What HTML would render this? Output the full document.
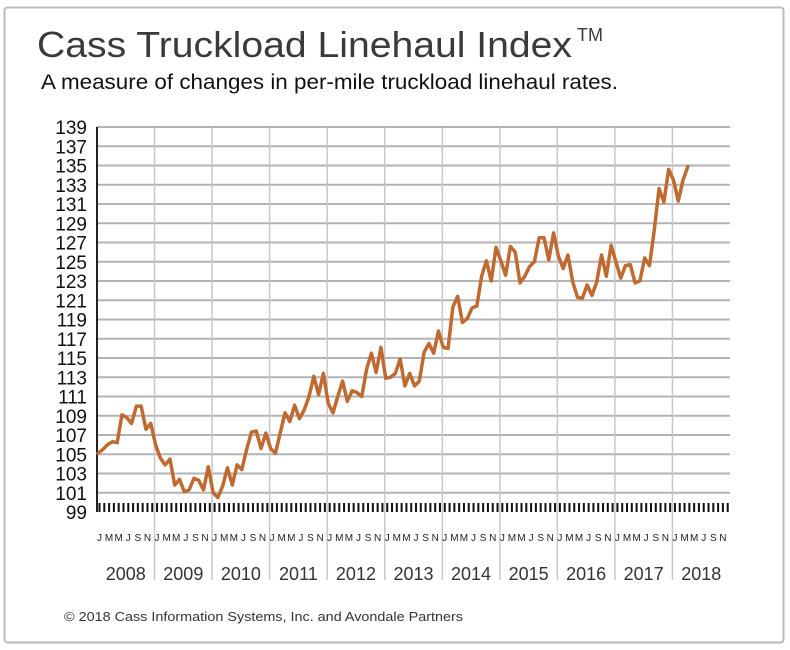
<!DOCTYPE html>
<html><head><meta charset="utf-8"><style>
body{margin:0;background:#fff;font-family:"Liberation Sans",sans-serif;}
svg{display:block}
</style></head><body>
<svg id="chart" width="790" height="650">
<rect x="4.5" y="7.5" width="779" height="635" rx="3" fill="#fff" stroke="#bbb" stroke-width="2"/>
<text x="37" y="57" font-size="36" fill="#3a3a3a" textLength="535" lengthAdjust="spacingAndGlyphs">Cass Truckload Linehaul Index</text>
<text x="577" y="41" font-size="18" fill="#3a3a3a">TM</text>
<text x="41" y="89" font-size="21" fill="#111" textLength="577" lengthAdjust="spacingAndGlyphs">A measure of changes in per-mile truckload linehaul rates.</text>
<g id="grid"></g>
<g id="series"></g>
<text x="64" y="621" font-size="13" fill="#333" textLength="399" lengthAdjust="spacingAndGlyphs">© 2018 Cass Information Systems, Inc. and Avondale Partners</text>
</svg>
<script>
const years=["2008","2009","2010","2011","2012","2013","2014","2015","2016","2017","2018"];
const yTicks=[99,101,103,105,107,109,111,113,115,117,119,121,123,125,127,129,131,133,135,137,139];
const monthLabels=["J","","M","","M","","J","","S","","N",""];
const values=[105.1,105.5,106,106.3,106.2,109.1,108.8,108.2,110,110,107.6,108.2,
106,104.6,103.9,104.5,101.8,102.4,101.1,101.3,102.5,102.3,101.3,103.7,
101,100.5,101.7,103.6,101.8,103.9,103.4,105.5,107.3,107.4,105.6,107.2,
105.6,105.1,107.2,109.3,108.4,110.1,108.7,109.6,111,113.1,111.2,113.4,
110.3,109.3,111,112.6,110.5,111.6,111.4,111,113.8,115.5,113.5,116.1,
112.9,113,113.4,114.9,112.1,113.4,112.1,112.6,115.6,116.5,115.5,117.8,
116.1,116,120.3,121.4,118.7,119.1,120.2,120.4,123.5,125.1,123,126.5,
125.1,123.6,126.6,126,122.8,123.5,124.5,125,127.5,127.5,125.2,128,
125.6,124.3,125.7,122.9,121.3,121.2,122.6,121.5,122.9,125.7,123.5,126.7,
125,123.3,124.6,124.7,122.8,123,125.4,124.6,128.3,132.6,131.2,134.6,
133.5,131.3,133.5,134.9];
const NS="http://www.w3.org/2000/svg";
const X0=97,X1=730,YW=(X1-X0)/11,MW=YW/12;
const xm=i=>X0+1+i*MW;
const yv=v=>512-(v-99)*(512-127)/40;
function mk(tag,attrs,parent){const e=document.createElementNS(NS,tag);for(const k in attrs)e.setAttribute(k,attrs[k]);parent.appendChild(e);return e;}
const g=document.getElementById('grid');
yTicks.forEach(t=>{
  if(t>99){const l=mk('line',{x1:X0,x2:X1,y1:yv(t),y2:yv(t),stroke:'#b3b3b3','stroke-width':2},g);
  
  }
  const tx=mk('text',{x:87,y:yv(t)+7,'font-size':19,'text-anchor':'end',fill:'#111'},g);
  tx.textContent=t;
  
  
});
years.forEach((yr,k)=>{
  const x=X0+k*YW;
  if(k>0){const l=mk('line',{x1:x,x2:x,y1:127,y2:580,stroke:'#c8c8c8','stroke-width':1.5},g);
  
  }
  const t=mk('text',{x:x+YW/2,y:580,'font-size':18,'text-anchor':'middle',fill:'#333'},g);
  t.textContent=yr;
  
  
  monthLabels.forEach((m,j)=>{
    if(!m)return;
    const mt=mk('text',{x:x+j*MW+2.5,y:541,'font-size':10,'text-anchor':'middle',fill:'#222'},g);
    mt.textContent=m;
    
    
  });
  for(let j=0;j<12;j++){
    const tk=mk('rect',{x:x+j*MW+1.5,y:503,width:2,height:9,fill:'#111'},g);
    
    
  }
});
const ax=mk('line',{x1:X0,x2:X0,y1:127,y2:512,stroke:'#222','stroke-width':2},g);


const s=document.getElementById('series');
const p=mk('polyline',{points:values.map((v,i)=>xm(i)+','+yv(v)).join(' '),fill:'none',stroke:'#bf6a30','stroke-width':3.5,'stroke-linejoin':'round','stroke-linecap':'round'},s);


</script>
</body></html>
